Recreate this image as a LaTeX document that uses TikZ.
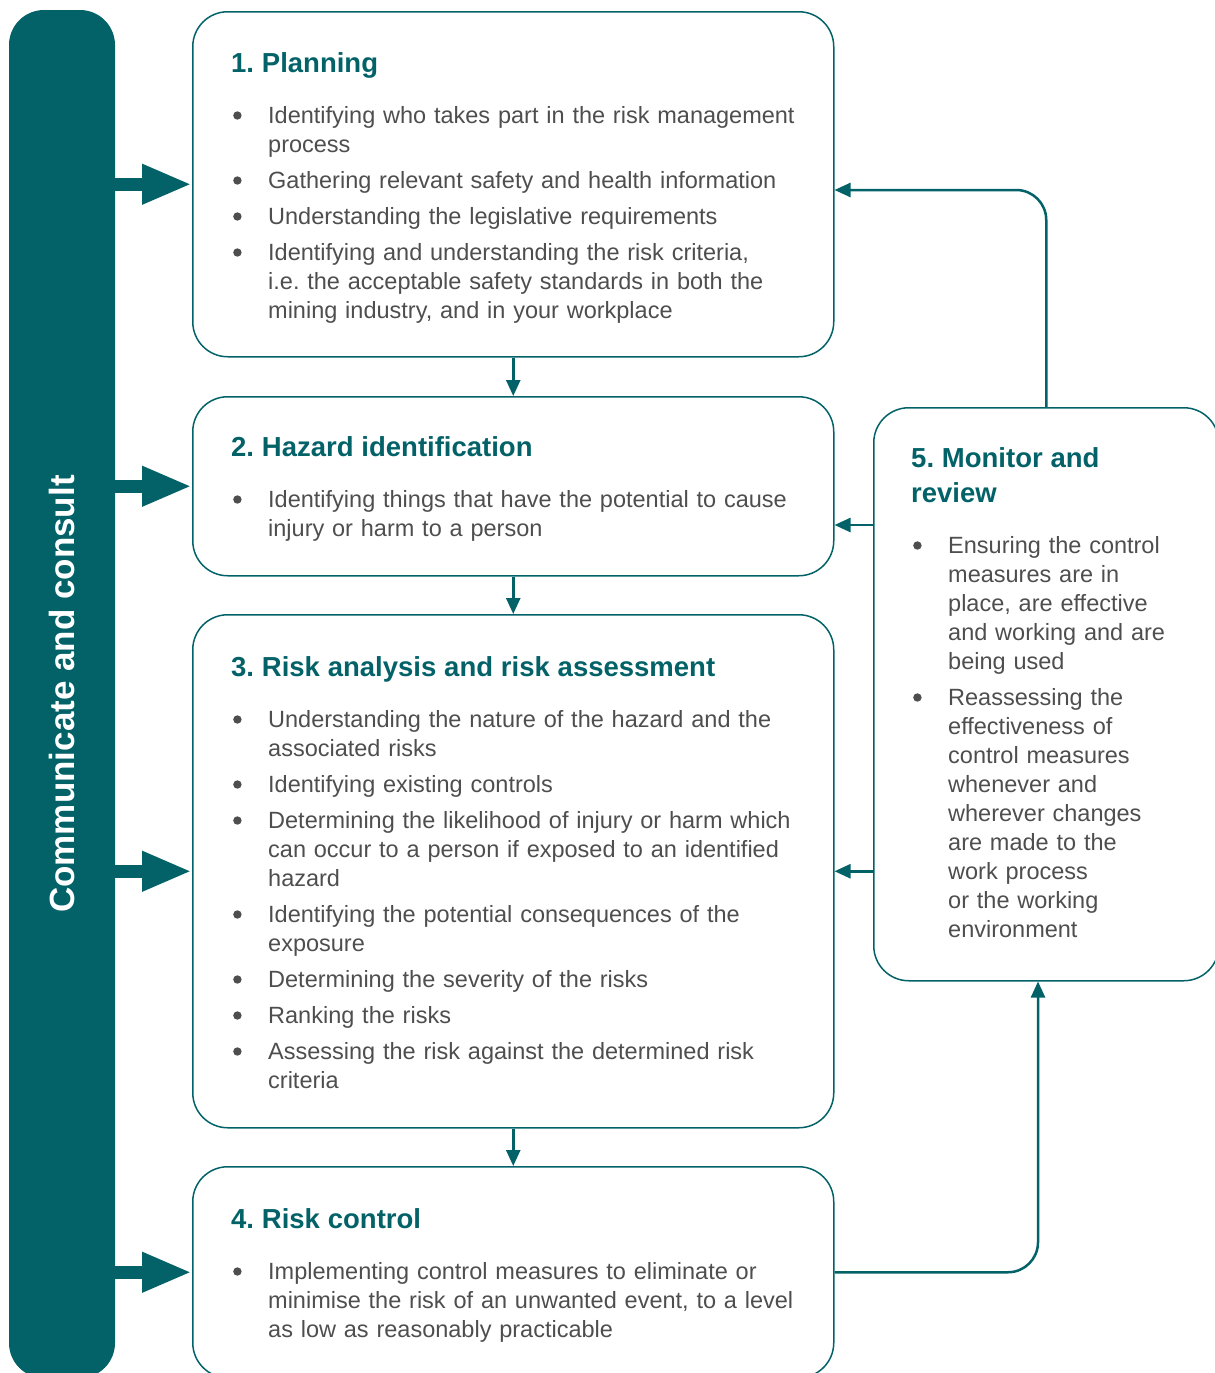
\documentclass[tikz,border=0pt]{standalone}
\usepackage{fontspec}
\setmainfont{Liberation Sans}
\usepackage{tkz-euclide}
\usepackage{tikz}
\usetikzlibrary{positioning,arrows.meta}
\definecolor{riskteal}{RGB}{2,98,104}
\definecolor{txtgray}{RGB}{78,78,78}
\frenchspacing
\newcommand{\stagetitle}[1]{{\color{riskteal}\bfseries\fontsize{27.5}{35}\selectfont #1\par}\vspace{22pt}}
\newcommand{\stagedot}{\tikz[baseline=0pt]\fill[txtgray] (0pt,7.5pt) circle (4.2pt);}
\newcommand{\stageitem}[1]{\par\hangindent=37pt\hangafter=1\noindent\makebox[37pt][l]{\hspace{2pt}\stagedot}#1\par\vspace{7pt}}
\tikzset{
  stagebox/.style={draw=riskteal, line width=1.5pt, rounded corners=35pt, minimum width=641pt, anchor=north west, inner sep=0pt},
  stagetxt/.style={anchor=base west, inner sep=0pt, text width=#1, align=left, text=txtgray, font=\fontsize{23.5}{29}\selectfont},
  stagetxt/.default=595pt,
  flow/.style={draw=riskteal, line width=2.5pt, -{Triangle[length=16pt,width=14pt]}},
  feed/.style={flow, rounded corners=30pt},
  bigarrow/.style={draw=riskteal, line width=13pt, -{Triangle[length=50pt,width=37pt]}}
}
\begin{document}
\begin{tikzpicture}[x=1pt,y=1pt]
    \useasboundingbox (0,0) rectangle (1215,-1373);
    \tkzDefPoint(192,-11){P}
    \tkzDefPoint(192,-396){H}
    \tkzDefPoint(192,-614){A}
    \tkzDefPoint(192,-1166){C}
    \tkzDefPoint(873,-407){M}
    \tkzDefPoint(833,-190){fbtop}
    \tkzDefPoint(873,-525){fbmid}
    \tkzDefPoint(1038,0){fbbot}
    % side bar
    \node[fill=riskteal, rounded corners=35pt, rotate=90, minimum width=1368pt, minimum height=106pt,
          inner sep=0pt, text=white, font=\bfseries\fontsize{35}{40}\selectfont] (bar) at (62,-694) {Communicate and consult};
    % stages
    \node[stagebox, minimum height=345pt] (plan) at (P) {};
    \node[stagebox, minimum height=179pt] (hazard) at (H) {};
    \node[stagebox, minimum height=513pt] (analysis) at (A) {};
    \node[stagebox, minimum height=211pt] (control) at (C) {};
    \node[stagebox, minimum width=345pt, minimum height=573pt] (monitor) at (M) {};
    \node[stagetxt] (plantxt) at (231,-72) {\stagetitle{1. Planning}
      \stageitem{Identifying who takes part in the risk management\newline process}
      \stageitem{Gathering relevant safety and health information}
      \stageitem{Understanding the legislative requirements}
      \stageitem{Identifying and understanding the risk criteria,\newline i.e. the acceptable safety standards in both the\newline mining industry, and in your workplace}};
    \node[stagetxt] (hazardtxt) at (231,-456) {\stagetitle{2. Hazard identification}
      \stageitem{Identifying things that have the potential to cause\newline injury or harm to a person}};
    \node[stagetxt] (analysistxt) at (231,-676) {\stagetitle{3. Risk analysis and risk assessment}
      \stageitem{Understanding the nature of the hazard and the\newline associated risks}
      \stageitem{Identifying existing controls}
      \stageitem{Determining the likelihood of injury or harm which\newline can occur to a person if exposed to an identified\newline hazard}
      \stageitem{Identifying the potential consequences of the\newline exposure}
      \stageitem{Determining the severity of the risks}
      \stageitem{Ranking the risks}
      \stageitem{Assessing the risk against the determined risk\newline criteria}};
    \node[stagetxt] (controltxt) at (231,-1228) {\stagetitle{4. Risk control}
      \stageitem{Implementing control measures to eliminate or\newline minimise the risk of an unwanted event, to a level\newline as low as reasonably practicable}};
    \node[stagetxt=300pt] (monitortxt) at (911,-467) {\stagetitle{5. Monitor and\\review}
      \stageitem{Ensuring the control\newline measures are in\newline place, are effective\newline and working and are\newline being used}
      \stageitem{Reassessing the\newline effectiveness of\newline control measures\newline whenever and\newline wherever changes\newline are made to the\newline work process\newline or the working\newline environment}};
    % arrows
    \draw[bigarrow] (bar.south |- plan.west) -- (plan.west);
    \draw[bigarrow] (bar.south |- hazard.west) -- (hazard.west);
    \draw[bigarrow] (bar.south |- analysis.west) -- (analysis.west);
    \draw[bigarrow] (bar.south |- control.west) -- (control.west);
    \draw[flow] (plan.south) -- (hazard.north);
    \draw[flow] (hazard.south) -- (analysis.north);
    \draw[flow] (analysis.south) -- (control.north);
    \draw[feed] (monitor.north) |- (plan.east |- fbtop);
    \draw[flow] (fbmid) -- (hazard.east |- fbmid);
    \draw[flow] (monitor.west |- analysis.east) -- (analysis.east);
    \draw[feed] (control.east) -| (monitor.south -| fbbot);
    %\draw[help lines] (0,0) grid (1215,-1373);
\end{tikzpicture}
\end{document}
